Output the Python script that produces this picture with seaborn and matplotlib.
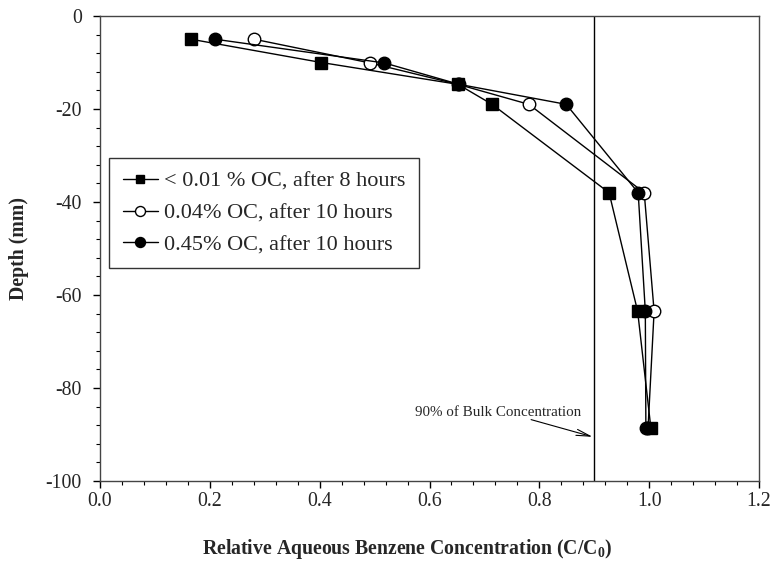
import matplotlib
matplotlib.use("Agg")
import matplotlib.pyplot as plt
from matplotlib.lines import Line2D
from matplotlib.ticker import MultipleLocator, FormatStrFormatter
import seaborn as sns
import pandas as pd

# ---- data ----
depth_sq = [-5, -10, -14.7, -19, -38, -63.5, -88.5]
conc_sq = [0.166, 0.403, 0.652, 0.714, 0.927, 0.979, 1.003]

depth_open = [-5, -10.1, -14.7, -19, -38, -63.5, -88.5]
conc_open = [0.281, 0.492, 0.652, 0.781, 0.991, 1.009, 0.998]

depth_fill = [-5, -10.1, -14.7, -19, -38, -63.5, -88.5]
conc_fill = [0.210, 0.518, 0.654, 0.849, 0.980, 0.993, 0.994]

labels = ["< 0.01 % OC, after 8 hours",
          "0.04% OC, after 10 hours",
          "0.45% OC, after 10 hours"]
bulk_level = 0.9
annot_text = "90% of Bulk Concentration"

sns.set_style("ticks")
plt.rcParams["font.family"] = ["Liberation Serif", "DejaVu Serif"]
plt.rcParams["mathtext.fontset"] = "custom"
plt.rcParams["mathtext.rm"] = "Liberation Serif"
plt.rcParams["mathtext.bf"] = "Liberation Serif:bold"
plt.rcParams["axes.unicode_minus"] = False

fig = plt.figure(figsize=(7.72, 5.61), dpi=100)
ax = fig.add_axes([100/772, 1-481/561, 659/772, 465/561])

series = [
    (conc_sq, depth_sq, "s", "black", 8.0, 4),
    (conc_open, depth_open, "o", "white", 9.0, 2),
    (conc_fill, depth_fill, "o", "black", 9.0, 3),
]
handles = []
for (xs, ys, mk, fc, ms, z), lab in zip(series, labels):
    df = pd.DataFrame({"c": xs, "d": ys})
    sns.lineplot(data=df, x="c", y="d", sort=False, ax=ax, color="black",
                 lw=1.0, marker=mk, markersize=ms, markerfacecolor=fc,
                 markeredgecolor="black", markeredgewidth=1.0, zorder=z)
    handles.append(Line2D([], [], color="black", lw=1.0, marker=mk,
                          markersize=ms*0.8, markerfacecolor=fc,
                          markeredgecolor="black", label=lab))

ax.axvline(bulk_level, color="black", lw=1.0, zorder=1)

ax.annotate("", xy=(0.897, -90.5), xytext=(0.785, -86.8),
            arrowprops=dict(arrowstyle="->,head_length=1.0,head_width=0.22",
                            color="black", lw=0.8, shrinkA=0, shrinkB=0))
ax.text(0.574, -85.2, annot_text, fontsize=10.8, ha="left", va="center")

ax.set_xlim(0, 1.2)
ax.set_ylim(-100, 0)
ax.xaxis.set_major_locator(MultipleLocator(0.2))
ax.xaxis.set_minor_locator(MultipleLocator(0.04))
ax.yaxis.set_major_locator(MultipleLocator(20))
ax.yaxis.set_minor_locator(MultipleLocator(4))
ax.xaxis.set_major_formatter(FormatStrFormatter("%.1f"))
ax.tick_params(axis="both", which="major", direction="out", length=5,
               width=1, labelsize=14.3, color="black")
ax.tick_params(axis="both", which="minor", direction="out", length=3,
               width=0.8, color="black")
ax.tick_params(axis="x", which="major", pad=3)
ax.tick_params(axis="y", which="major", pad=8)
for s in ax.spines.values():
    s.set_visible(True)
    s.set_color("#444444")
    s.set_linewidth(1.0)

ax.set_xlabel(r"Relative Aqueous Benzene Concentration (C/C$_\mathbf{0}$)",
              fontsize=14.2, fontweight="bold")
ax.xaxis.set_label_coords(0.466, -0.12)
ax.set_ylabel("Depth (mm)", fontsize=14.2, fontweight="bold", labelpad=12)

leg = ax.legend(handles=handles, loc="upper left",
                bbox_to_anchor=(0.014, 0.695), borderaxespad=0,
                frameon=True, fancybox=False,
                edgecolor="black", fontsize=16, handlelength=1.6,
                borderpad=0.6, labelspacing=0.5, handletextpad=0.27)
leg.get_frame().set_linewidth(1.0)

fig.savefig("out.png", dpi=100)
